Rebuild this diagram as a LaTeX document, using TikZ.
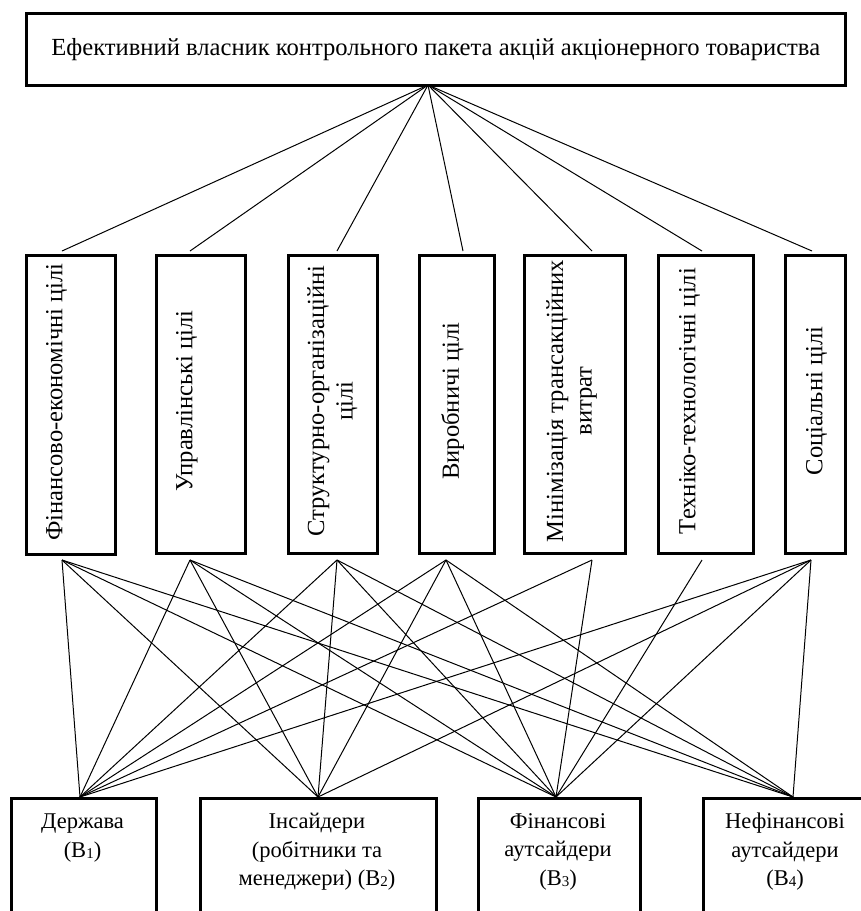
\documentclass[tikz,border=0pt]{standalone}
\usepackage{fontspec}
\setmainfont{Liberation Serif}
\newcommand\sbx[1]{\raisebox{-1pt}{\fontsize{15}{15}\selectfont #1}}
\tikzset{
  bx/.style={draw=black, line width=2.6pt, fill=white, inner sep=0pt},
  conn/.style={draw=black, line width=1pt},
  vt/.style={rotate=90, anchor=north, align=center, inner sep=0pt, font=\fontsize{24.6}{28.5}\selectfont},
  bt/.style={anchor=north, align=center, inner sep=0pt, font=\fontsize{22.5}{28.5}\selectfont},
}
\begin{document}
\begin{tikzpicture}[x=1pt,y=-1pt]
\useasboundingbox (0,0) rectangle (861,911);
\clip (0,0) rectangle (861,911);
\fill[white] (0,0) rectangle (861,911);

% top box
\node[bx, anchor=north west, minimum width=819, minimum height=72,
      font=\fontsize{24.6}{30}\selectfont] (top) at (25,12)
  {Ефективний власник контрольного пакета акцій акціонерного товариства};
\coordinate (apex) at (428,85);

% goal boxes
\node[bx, anchor=north west, minimum width=89, minimum height=299] (g1) at (25,254) {};
\node[bx, anchor=north west, minimum width=89, minimum height=298] (g2) at (155,254) {};
\node[bx, anchor=north west, minimum width=89, minimum height=298] (g3) at (287,254) {};
\node[bx, anchor=north west, minimum width=75, minimum height=298] (g4) at (418,254) {};
\node[bx, anchor=north west, minimum width=101, minimum height=298] (g5) at (523,254) {};
\node[bx, anchor=north west, minimum width=95, minimum height=298] (g6) at (657,254) {};
\node[bx, anchor=north west, minimum width=60, minimum height=298] (g7) at (784,254) {};

\node[vt] (g1t) at (46,402) {Фінансово-економічні цілі};
\node[vt] (g2t) at (176,401) {Управлінські цілі};
\node[vt] (g3t) at (307,401) {Структурно-організаційні\\цілі};
\node[vt] (g4t) at (441,401) {Виробничі цілі};
\node[vt] (g5t) at (546,401) {Мінімізація трансакційних\\витрат};
\node[vt] (g6t) at (679,401) {Техніко-технологічні цілі};
\node[vt] (g7t) at (806,401) {Соціальні цілі};

% connector ends at goal boxes
\coordinate (u1) at (62,251);  \coordinate (l1) at (62,560);
\coordinate (u2) at (190,251); \coordinate (l2) at (190,560);
\coordinate (u3) at (337,251); \coordinate (l3) at (337,560);
\coordinate (u4) at (463,251); \coordinate (l4) at (446,560);
\coordinate (u5) at (592,251); \coordinate (l5) at (592,560);
\coordinate (u6) at (702,251); \coordinate (l6) at (702,560);
\coordinate (u7) at (812,251); \coordinate (l7) at (811,560);

% owner boxes
\node[bx, anchor=north west, minimum width=145, minimum height=140] (d) at (10,797) {};
\node[bx, anchor=north west, minimum width=236, minimum height=140] (ins) at (199,797) {};
\node[bx, anchor=north west, minimum width=162, minimum height=140] (fin) at (477,797) {};
\node[bx, anchor=north west, minimum width=166, minimum height=140] (nef) at (702,797) {};

\node[bt] (dt) at (82.5,814) {Держава\\(B\sbx{1})};
\node[bt] (inst) at (317,813) {Інсайдери\\(робітники та\\менеджери) (B\sbx{2})};
\node[bt] (fint) at (558,813) {Фінансові\\аутсайдери\\(B\sbx{3})};
\node[bt] (neft) at (785,813) {Нефінансові\\аутсайдери\\(B\sbx{4})};

\coordinate (dd) at (80,797);
\coordinate (ii) at (318,797);
\coordinate (ff) at (556,797);
\coordinate (nn) at (793,797);

% upper connectors
\foreach \k in {1,...,7} \draw[conn] (apex) -- (u\k);

% lower connectors
\foreach \k in {1,2,3,4,7} {
  \draw[conn] (l\k) -- (dd);
  \draw[conn] (l\k) -- (ii);
  \draw[conn] (l\k) -- (ff);
  \draw[conn] (l\k) -- (nn);
}
\draw[conn] (l5) -- (dd);
\draw[conn] (l5) -- (ff);
\draw[conn] (l6) -- (ff);
\end{tikzpicture}
\end{document}
